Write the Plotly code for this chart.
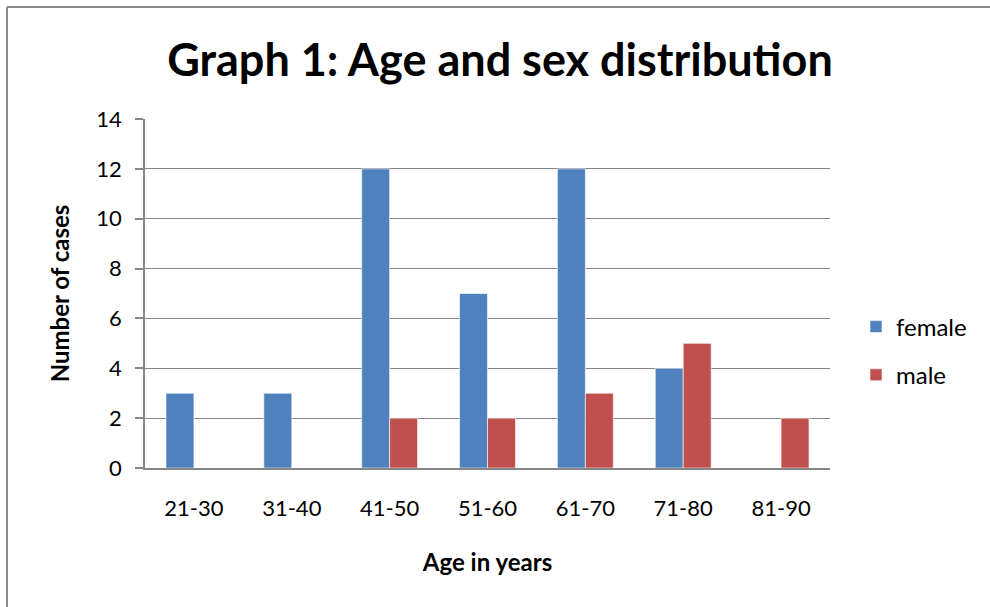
import plotly.graph_objects as go

# Age groups and case counts per sex
age_groups = ["21-30", "31-40", "41-50", "51-60", "61-70", "71-80", "81-90"]
female_cases = [3, 3, 12, 7, 12, 4, 0]
male_cases = [0, 0, 2, 2, 3, 5, 2]
y_ticks = [0, 2, 4, 6, 8, 10, 12, 14]

FONT = "Lato, Carlito, Calibri, sans-serif"
GRID = "#868686"
W, H = 990, 607

fig = go.Figure()
fig.add_trace(go.Bar(
    name="female", x=age_groups, y=female_cases, legendgroup="f",
    marker=dict(color="#4F81BD", line=dict(color="rgba(255,255,255,0.6)", width=1)),
))
fig.add_trace(go.Bar(
    name="male", x=age_groups, y=male_cases, legendgroup="m",
    marker=dict(color="#C0504D", line=dict(color="rgba(255,255,255,0.6)", width=1)),
))

fig.update_layout(
    width=W, height=H,
    margin=dict(l=145, r=160, t=119, b=139),
    paper_bgcolor="white", plot_bgcolor="white",
    barmode="group", bargap=0.4286, bargroupgap=0,
    font=dict(family=FONT, color="black", size=22),
    title=dict(
        text="<b>Graph 1: Age and sex distribution</b>",
        x=500 / W, xanchor="center", xref="container",
        y=1 - 60 / H, yref="container", yanchor="middle",
        font=dict(size=45, family=FONT, color="black"),
    ),
    legend=dict(
        x=856 / W, xref="container", xanchor="left",
        y=1 - 351 / H, yref="container", yanchor="middle",
        font=dict(size=24, family=FONT), tracegroupgap=14,
        traceorder="grouped",
        itemwidth=30, bgcolor="rgba(0,0,0,0)",
    ),
    xaxis=dict(
        showgrid=False, showline=True, linecolor=GRID, linewidth=2,
        ticks="", tickfont=dict(size=22, family=FONT),
        ticklabelstandoff=20,
        title=dict(text="<b>Age in years</b>", font=dict(size=24, family=FONT), standoff=34),
    ),
    yaxis=dict(
        range=[0, 14], tickvals=y_ticks, showgrid=True, gridcolor=GRID, gridwidth=1,
        showline=True, linecolor=GRID, linewidth=1.5,
        ticks="outside", ticklen=8, tickcolor=GRID, tickwidth=1.5,
        tickfont=dict(size=22, family=FONT), ticklabelstandoff=9,
        zeroline=False,
        title=dict(text="<b>Number of cases</b>", font=dict(size=24, family=FONT), standoff=20),
    ),
)

# Chart frame: left and top edges of the outer border
fig.add_shape(type="line", xref="paper", yref="paper",
              x0=-138 / 685, x1=1.3, y0=1 + 112 / 349, y1=1 + 112 / 349,
              line=dict(color="#8C8C8C", width=2))
fig.add_shape(type="line", xref="paper", yref="paper",
              x0=-138 / 685, x1=-138 / 685, y0=1 + 112 / 349, y1=-0.5,
              line=dict(color="#8C8C8C", width=2))

fig.write_html("out.html")
